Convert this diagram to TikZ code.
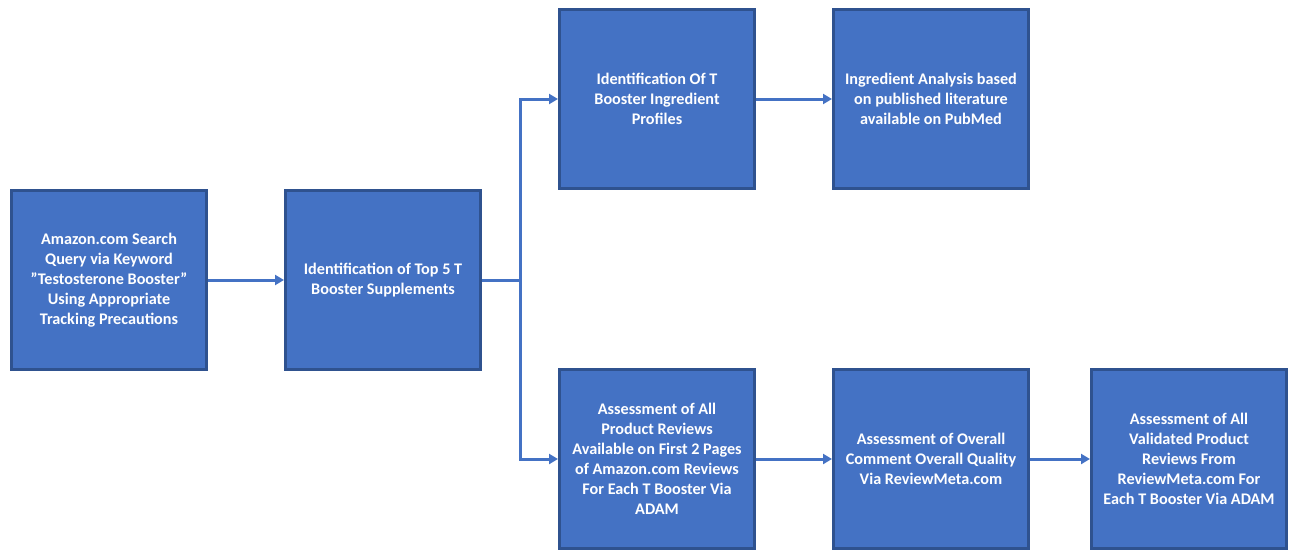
\documentclass[tikz,border=0pt]{standalone}
\usepackage{fontspec}
\setmainfont{Carlito}
\usetikzlibrary{arrows.meta}
\definecolor{boxfill}{HTML}{4472C4}
\definecolor{boxline}{HTML}{2F528F}
\tikzset{
  flowbox/.style={draw=boxline, line width=3pt, fill=boxfill, text=white,
    minimum width=195pt, minimum height=179pt, inner sep=0pt,
    align=center, font=\fontsize{16.2}{20}\selectfont\bfseries},
  conn/.style={draw=boxfill, line width=3pt, -{Triangle[length=9pt,width=10pt]}},
  plain/.style={draw=boxfill, line width=3pt}
}
\begin{document}
\begin{tikzpicture}[x=1pt,y=-1pt]
\useasboundingbox (0,0) rectangle (1295,551);
\node[flowbox] (b1) at (109,280) {Amazon.com Search\\Query via Keyword\\”Testosterone Booster”\\Using Appropriate\\Tracking Precautions};
\node[flowbox] (b2) at (383,280) {Identification of Top 5 T\\Booster Supplements};
\node[flowbox] (b3) at (657,99) {Identification Of T\\Booster Ingredient\\Profiles};
\node[flowbox] (b4) at (931,99) {Ingredient Analysis based\\on published literature\\available on PubMed};
\node[flowbox] (b5) at (657,459) {Assessment of All\\Product Reviews\\Available on First 2 Pages\\of Amazon.com Reviews\\For Each T Booster Via\\ADAM};
\node[flowbox] (b6) at (931,459) {Assessment of Overall\\Comment Overall Quality\\Via ReviewMeta.com};
\node[flowbox] (b7) at (1189,459) {Assessment of All\\Validated Product\\Reviews From\\ReviewMeta.com For\\Each T Booster Via ADAM};
\coordinate (split) at (520,280);
\draw[conn] (b1) -- (b2);
\draw[plain] (b2.east) -- (split);
\draw[conn] (split) |- (b3.west);
\draw[conn] (split) |- (b5.west);
\draw[conn] (b3) -- (b4);
\draw[conn] (b5) -- (b6);
\draw[conn] (b6) -- (b7);
\end{tikzpicture}
\end{document}
